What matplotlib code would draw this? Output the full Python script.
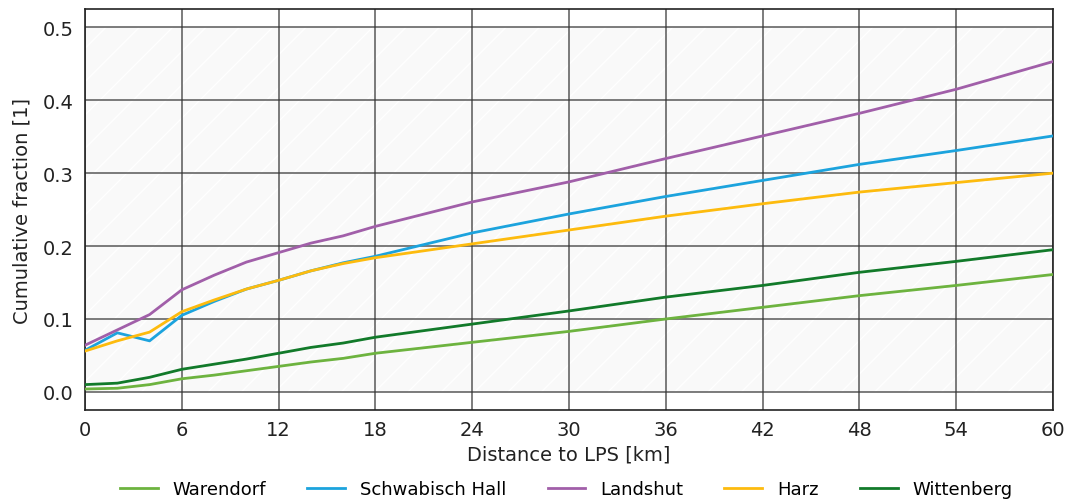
import matplotlib
matplotlib.use("Agg")
import matplotlib.pyplot as plt

distance_km = [0, 2, 4, 6, 8, 10, 12, 14, 16, 18, 24, 30, 36, 42, 48, 54, 60]

warendorf = [0.004, 0.005, 0.010, 0.018, 0.023, 0.029, 0.035, 0.041, 0.046, 0.053,
             0.068, 0.083, 0.100, 0.116, 0.132, 0.146, 0.161]
schwabisch_hall = [0.057, 0.081, 0.070, 0.105, 0.124, 0.141, 0.153, 0.166, 0.177, 0.186,
                   0.218, 0.244, 0.268, 0.290, 0.312, 0.331, 0.351]
landshut = [0.064, 0.085, 0.106, 0.140, 0.160, 0.178, 0.191, 0.204, 0.214, 0.227,
            0.2605, 0.288, 0.320, 0.351, 0.382, 0.415, 0.453]
harz = [0.056, 0.070, 0.082, 0.110, 0.126, 0.141, 0.153, 0.166, 0.176, 0.184,
        0.203, 0.222, 0.241, 0.258, 0.274, 0.287, 0.300]
wittenberg = [0.010, 0.012, 0.020, 0.031, 0.038, 0.045, 0.053, 0.061, 0.067, 0.075,
              0.093, 0.111, 0.130, 0.146, 0.164, 0.179, 0.195]

series_names = ["Warendorf", "Schwabisch Hall", "Landshut", "Harz", "Wittenberg"]
series_values = [warendorf, schwabisch_hall, landshut, harz, wittenberg]
colors = ["#6db33f", "#1ca3dd", "#a15fa9", "#fdbb0e", "#127a2a"]

x_ticks = [0, 6, 12, 18, 24, 30, 36, 42, 48, 54, 60]
y_ticks = [0.0, 0.1, 0.2, 0.3, 0.4, 0.5]

fig = plt.figure(figsize=(10.67, 5.02), dpi=100)
ax = fig.add_axes([0.0797, 0.181, 0.9072, 0.799])
ax.set_facecolor("white")
# shaded, faintly hatched band between 0 and 0.5
ax.axhspan(0.0, 0.5, facecolor="#f9f9f9", edgecolor="#ffffff", hatch="/",
           linewidth=0, zorder=0)

for name, vals, c in zip(series_names, series_values, colors):
    ax.plot(distance_km, vals, color=c, linewidth=2.0, label=name, zorder=3)

ax.set_xlim(0, 60)
ax.set_ylim(-0.025, 0.525)
ax.set_xticks(x_ticks)
ax.set_yticks(y_ticks)
ax.set_yticklabels([f"{v:.1f}" for v in y_ticks])
ax.tick_params(axis="both", length=0, labelsize=14, colors="#222222")
ax.tick_params(axis="y", pad=8)
ax.tick_params(axis="x", pad=7)
ax.grid(True, color="#333333", alpha=0.75, linewidth=1.2, zorder=1)
ax.set_axisbelow(True)
for s in ax.spines.values():
    s.set_color("#222222")
    s.set_linewidth(1.2)

ax.set_xlabel("Distance to LPS [km]", fontsize=14, color="#222222", labelpad=4)
ax.set_ylabel("Cumulative fraction [1]", fontsize=14, color="#222222", labelpad=8)

ax.legend(loc="center", bbox_to_anchor=(0.497, -0.197), ncol=5, frameon=False,
          fontsize=13, handlelength=2.1, columnspacing=2.3, handletextpad=0.8)

fig.savefig("out.png", dpi=100)
